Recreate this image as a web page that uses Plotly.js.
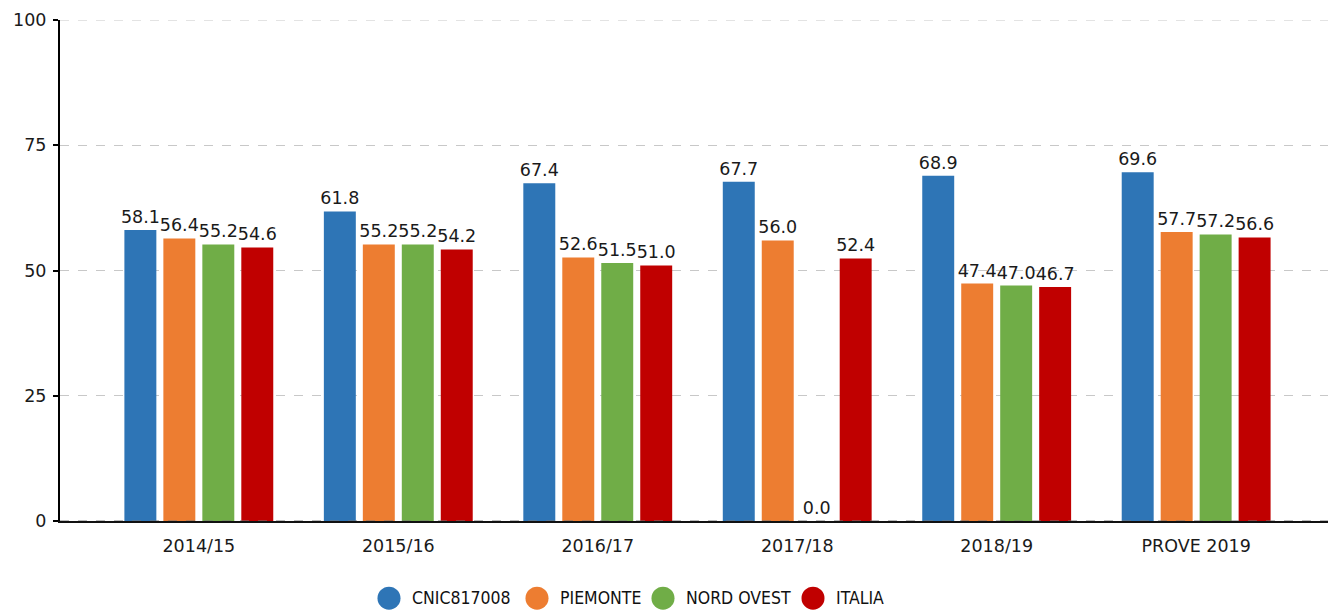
<!DOCTYPE html>
<html><head><meta charset="utf-8">
<script src="https://cdn.plot.ly/plotly-3.0.1.min.js"></script>
<style>html,body{margin:0;padding:0;background:#fff}#chart{width:1328px;height:610px}</style>
</head><body><div id="chart"></div>
<script>
const categories = ["2014/15","2015/16","2016/17","2017/18","2018/19","PROVE 2019"];
const seriesNames = ["CNIC817008","PIEMONTE","NORD OVEST","ITALIA"];
const cnic = [58.1, 61.8, 67.4, 67.7, 68.9, 69.6];
const piemonte = [56.4, 55.2, 52.6, 56.0, 47.4, 57.7];
const nordOvest = [55.2, 55.2, 51.5, 0.0, 47.0, 57.2];
const italia = [54.6, 54.2, 51.0, 52.4, 46.7, 56.6];
const yTicks = [0, 25, 50, 75, 100];

const colors = ["#2E75B6", "#ED7D31", "#70AD47", "#C00000"];
const values = [cnic, piemonte, nordOvest, italia];
const font = "DejaVu Sans, Verdana, sans-serif";

const traces = values.map((v, i) => ({
  type: "bar", x: categories, y: v, name: seriesNames[i],
  marker: {color: colors[i]},
  text: v.map(d => d.toFixed(1)), textposition: "outside",
  textfont: {family: font, size: 17.5, color: "#1a1a1a"},
  constraintext: "none", cliponaxis: false, showlegend: false,
  hoverinfo: "x+y"
}));

// custom legend (circles + labels) below the plot
const legendX = [389, 537, 663, 813];
const shapes = [], annotations = [];
const plotL = 60, plotW = 1268;
seriesNames.forEach((n, i) => {
  const px = (legendX[i] - plotL) / plotW;
  shapes.push({type: "circle", xref: "paper", yref: "paper", xsizemode: "pixel", ysizemode: "pixel",
    xanchor: px, yanchor: -0.154, x0: -11.5, x1: 11.5, y0: -11.5, y1: 11.5,
    fillcolor: colors[i], line: {width: 0}});
  annotations.push({xref: "paper", yref: "paper", x: (legendX[i] + 21 - plotL) / plotW, y: -0.154,
    xanchor: "left", yanchor: "middle", showarrow: false, text: n,
    font: {family: "DejaVu Sans Condensed, DejaVu Sans, sans-serif", size: 17.5, color: "#111"}});
});
// top gridline at the last tick (hidden by plotly at the plot edge)
shapes.push({type: "line", xref: "paper", yref: "y", x0: 0, x1: 1, y0: yTicks[yTicks.length - 1], y1: yTicks[yTicks.length - 1],
  line: {color: "#c8c8c8", width: 1, dash: "dash"}, layer: "below"});
// dashed overlay on the baseline
shapes.push({type: "line", xref: "paper", yref: "y", x0: 0, x1: 1, y0: 0, y1: 0,
  line: {color: "#777", width: 1, dash: "dash"}, layer: "above"});

const layout = {
  width: 1328, height: 610,
  margin: {l: 60, r: 0, t: 20, b: 89},
  paper_bgcolor: "#fff", plot_bgcolor: "#fff",
  barmode: "group", bargap: 0.2185, bargroupgap: 0.18,
  showlegend: false,
  font: {family: font, size: 17, color: "#1a1a1a"},
  xaxis: {type: "category", range: [-0.696, 5.661], showgrid: false, zeroline: false,
    showline: true, linecolor: "#111", linewidth: 2, ticks: "", ticklabelstandoff: 8,
    tickfont: {family: font, size: 17.5, color: "#1a1a1a"}, fixedrange: true},
  yaxis: {range: [0, 100], tickvals: yTicks, ticktext: yTicks.map(String),
    showgrid: true, gridcolor: "#c8c8c8", griddash: "dash", gridwidth: 1,
    zeroline: false, showline: true, linecolor: "#000", linewidth: 2,
    ticks: "outside", ticklen: 5, tickwidth: 2, tickcolor: "#000", ticklabelstandoff: 3,
    tickfont: {family: font, size: 17.5, color: "#1a1a1a"}, fixedrange: true},
  shapes: shapes, annotations: annotations
};
Plotly.newPlot("chart", traces, layout, {displayModeBar: false, staticPlot: true});
</script></body></html>
